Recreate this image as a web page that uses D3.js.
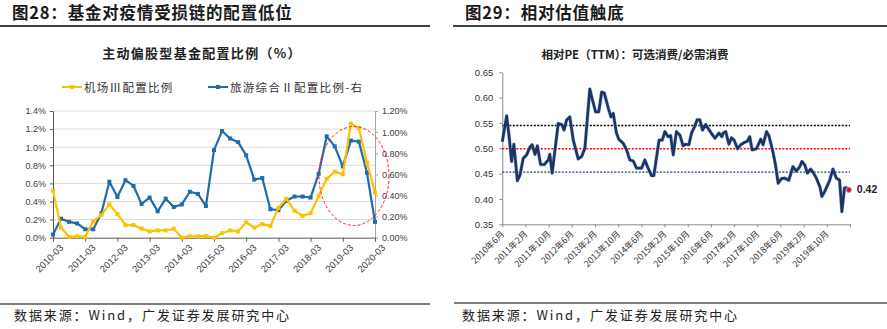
<!DOCTYPE html>
<html><head><meta charset="utf-8">
<script src="https://cdn.jsdelivr.net/npm/d3@7"></script>
<style>body{margin:0;background:#fff;} svg{display:block;}</style>
</head><body>
<svg id="c" width="887" height="329"></svg>
<script>
// ---------- Left chart data ----------
const quarters = ["2010-03","2010-06","2010-09","2010-12","2011-03","2011-06","2011-09","2011-12",
"2012-03","2012-06","2012-09","2012-12","2013-03","2013-06","2013-09","2013-12",
"2014-03","2014-06","2014-09","2014-12","2015-03","2015-06","2015-09","2015-12",
"2016-03","2016-06","2016-09","2016-12","2017-03","2017-06","2017-09","2017-12",
"2018-03","2018-06","2018-09","2018-12","2019-03","2019-06","2019-09","2019-12","2020-03"];
const yearLabels = ["2010-03","2011-03","2012-03","2013-03","2014-03","2015-03","2016-03","2017-03","2018-03","2019-03","2020-03"];
const airportShare = [0.52,0.11,0.01,0.015,0.01,0.18,0.25,0.37,0.26,0.14,0.14,0.10,0.07,0.08,0.08,0.10,
0.00,0.015,0.015,0.02,0.00,0.05,0.08,0.07,0.17,0.11,0.15,0.13,0.33,0.43,0.30,0.24,0.27,0.46,0.65,0.73,0.70,1.26,1.21,0.83,0.50];
const tourismShare = [0.03,0.18,0.15,0.135,0.08,0.08,0.23,0.53,0.385,0.545,0.49,0.32,0.38,0.25,0.37,0.29,
0.315,0.435,0.415,0.30,0.83,1.01,0.94,0.905,0.78,0.55,0.565,0.27,0.26,0.35,0.39,0.39,0.38,0.605,0.96,0.865,0.675,0.92,0.91,0.615,0.15];
const leftTicks = [0,0.2,0.4,0.6,0.8,1.0,1.2,1.4];
const rightTicks = [0,0.2,0.4,0.6,0.8,1.0,1.2];
const legendNames = ["机场Ⅲ配置比例","旅游综合Ⅱ配置比例-右"];

// ---------- Right chart data ----------
const peMonth = [0,1.5,2.3,3.2,4.0,5.2,6.1,7.2,8.4,9.6,10.3,11.3,12.1,13.2,14.5,15.9,16.4,17.2,19.3,20.5,21.3,22.2,23.3,24.5,26.2,27.4,28.5,
30.2,31.4,32.2,33.3,34.3,35.2,36.6,37.5,38.3,39.4,40.2,41.7,42.9,44.0,45.2,46.3,48.1,49.2,50.3,51.5,52.3,54.1,55.2,56.1,57.2,58.1,59.0,
60.1,61.3,62.4,63.3,64.4,65.3,66.4,67.2,68.2,69.1,70.2,71.4,72.6,73.4,74.8,75.8,76.2,77.1,78.2,79.1,80.0,81.2,82.3,83.7,84.6,85.4,86.2,
87.7,89.2,90.0,91.2,92.0,93.4,94.3,95.2,96.3,97.5,98.9,100.3,101.5,102.7,103.4,104.4,105.3,106.4,107.2,108.4,109.6,110.3,111.3,113.0,
114.1,115.3,116.4,117.2,118.1,118.9,119.6];
const peValue = [0.513,0.564,0.526,0.474,0.508,0.436,0.447,0.480,0.487,0.503,0.507,0.488,0.505,0.468,0.468,0.477,0.488,0.451,0.549,0.547,0.536,0.556,0.562,0.516,0.479,0.484,0.500,
0.617,0.589,0.572,0.572,0.611,0.609,0.579,0.562,0.569,0.530,0.518,0.510,0.497,0.477,0.475,0.461,0.461,0.477,0.461,0.446,0.446,0.516,0.516,0.533,0.523,0.525,0.487,
0.533,0.526,0.505,0.508,0.507,0.530,0.543,0.556,0.556,0.536,0.547,0.536,0.526,0.520,0.530,0.523,0.530,0.533,0.508,0.521,0.516,0.499,0.507,0.512,0.514,0.523,0.497,
0.499,0.518,0.507,0.533,0.525,0.493,0.467,0.431,0.440,0.441,0.437,0.464,0.455,0.464,0.474,0.467,0.451,0.459,0.453,0.441,0.424,0.405,0.415,0.437,
0.459,0.441,0.437,0.375,0.422,0.422,0.418];
const peTickMonths = [0,8,16,24,32,40,48,56,64,72,80,88,96,104,112,120];
const peTickLabels = ["2010年6月","2011年2月","2011年10月","2012年6月","2013年2月","2013年10月","2014年6月","2015年2月","2015年10月","2016年6月","2017年2月","2017年10月","2018年6月","2019年2月","2019年10月",""];
const peTicks = [0.35,0.40,0.45,0.50,0.55,0.60,0.65];
const peUpper = 0.545, peMean = 0.499, peLower = 0.453;
const peLastLabel = "0.42";

// ---------- Drawing ----------
const svg = d3.select("#c");
const CJK = "'Noto Sans CJK SC','Noto Sans',sans-serif";
const NUM = "'Liberation Sans',Arial,sans-serif";
const NARROW = "'Liberation Sans Narrow','Liberation Sans',Arial,sans-serif";

// Headers
svg.append("text").attr("x",12).attr("y",19).attr("font-family",CJK).attr("font-weight",700)
  .attr("font-size",16.5).attr("letter-spacing",0.8).attr("fill","#1a1a1a").text("图28：基金对疫情受损链的配置低位");
svg.append("text").attr("x",465).attr("y",19).attr("font-family",CJK).attr("font-weight",700)
  .attr("font-size",16.5).attr("letter-spacing",0.8).attr("fill","#1a1a1a").text("图29：相对估值触底");
svg.append("line").attr("x1",0).attr("x2",430).attr("y1",26).attr("y2",26).attr("stroke","#000").attr("stroke-width",1.5);
svg.append("line").attr("x1",453).attr("x2",887).attr("y1",26).attr("y2",26).attr("stroke","#000").attr("stroke-width",1.5);
// Footers
svg.append("line").attr("x1",0).attr("x2",430).attr("y1",304).attr("y2",304).attr("stroke","#000").attr("stroke-width",1.2);
svg.append("line").attr("x1",454).attr("x2",887).attr("y1",303).attr("y2",303).attr("stroke","#000").attr("stroke-width",1.2);
[[14,320],[462,320]].forEach(p=>{
  svg.append("text").attr("x",p[0]).attr("y",p[1]).attr("font-family",CJK).attr("font-size",13)
    .attr("letter-spacing",1.9).attr("fill","#222").text("数据来源：Wind，广发证券发展研究中心");
});

// ----- Left chart -----
const L = svg.append("g");
const x = d3.scalePoint().domain(quarters).range([53,375]);
const yL = d3.scaleLinear().domain([0,1.4]).range([237.7,111]);
const yR = d3.scaleLinear().domain([0,1.2]).range([237.7,111]);

L.append("text").attr("x",202).attr("y",58).attr("text-anchor","middle").attr("font-family",CJK)
  .attr("font-weight",700).attr("font-size",13).attr("letter-spacing",1.3).attr("fill","#222").text("主动偏股型基金配置比例（%）");

const yellow = "#FFC000", blue = "#1F6BB0";
const legend = [[62,yellow,legendNames[0]],[208,blue,legendNames[1]]];
legend.forEach(([lx,c,t])=>{
  L.append("line").attr("x1",lx).attr("x2",lx+20).attr("y1",87).attr("y2",87).attr("stroke",c).attr("stroke-width",2);
  L.append("rect").attr("x",lx+8).attr("y",85).attr("width",4).attr("height",4).attr("fill",c);
  L.append("text").attr("x",lx+22).attr("y",91.5).attr("font-family",CJK).attr("font-size",11.5)
    .attr("letter-spacing",1.3).attr("fill","#333").text(t);
});

L.append("g").selectAll("line").data(leftTicks.slice(1)).join("line")
  .attr("x1",53).attr("x2",375).attr("y1",d=>yL(d)).attr("y2",d=>yL(d)).attr("stroke","#d9d9d9").attr("stroke-width",1);

const axL = L.append("g").attr("transform","translate(53,0)")
  .call(d3.axisLeft(yL).tickValues(leftTicks).tickFormat(d=>d.toFixed(1)+"%").tickSize(3).tickSizeOuter(0));
axL.select(".domain").attr("stroke","#595959");
axL.selectAll(".tick line").attr("stroke","#595959");
axL.selectAll("text").attr("font-family",NUM).attr("font-size",9).attr("fill","#404040").attr("x",-7);

const axR = L.append("g").attr("transform","translate(375,0)")
  .call(d3.axisRight(yR).tickValues(rightTicks).tickFormat(d=>d.toFixed(2)+"%").tickSize(3).tickSizeOuter(0));
axR.select(".domain").attr("stroke","#a6a6a6");
axR.selectAll(".tick line").attr("stroke","#a6a6a6");
axR.selectAll("text").attr("font-family",NUM).attr("font-size",9).attr("fill","#404040").attr("x",7);

const axB = L.append("g").attr("transform","translate(0,237.7)")
  .call(d3.axisBottom(x).tickValues(yearLabels).tickSize(4).tickSizeOuter(0));
axB.select(".domain").attr("stroke","#595959");
axB.selectAll(".tick line").attr("stroke","#595959");
axB.selectAll("text").attr("font-family",NUM).attr("font-size",9.5).attr("fill","#404040")
  .attr("text-anchor","end").attr("transform","translate(4,4) rotate(-45)").attr("dy","0.35em").attr("y",6).attr("x",0);

const lineL = d3.line().x((d,i)=>x(quarters[i])).y(d=>yL(d));
const lineR = d3.line().x((d,i)=>x(quarters[i])).y(d=>yR(d));
L.append("path").datum(tourismShare).attr("d",lineR).attr("fill","none").attr("stroke",blue).attr("stroke-width",2.2).attr("stroke-linejoin","round");
L.append("g").selectAll("rect").data(tourismShare).join("rect")
  .attr("x",(d,i)=>x(quarters[i])-2).attr("y",d=>yR(d)-2).attr("width",4).attr("height",4).attr("fill",blue);
L.append("path").datum(airportShare).attr("d",lineL).attr("fill","none").attr("stroke",yellow).attr("stroke-width",2.2).attr("stroke-linejoin","round");
L.append("g").selectAll("rect").data(airportShare).join("rect")
  .attr("x",(d,i)=>x(quarters[i])-2).attr("y",d=>yL(d)-2).attr("width",4).attr("height",4).attr("fill",yellow);

L.append("ellipse").attr("cx",354).attr("cy",176).attr("rx",35).attr("ry",49.5)
  .attr("fill","none").attr("stroke","#ff2020").attr("stroke-width",1).attr("stroke-dasharray","3,2");

// ----- Right chart -----
const R = svg.append("g");
const xP = d3.scaleLinear().domain([0,120]).range([502.3,850]);
const yP = d3.scaleLinear().domain([0.35,0.65]).range([224.3,72.3]);

R.append("text").attr("x",635).attr("y",59).attr("text-anchor","middle").attr("font-family",CJK)
  .attr("font-weight",700).attr("font-size",11.5).attr("fill","#222").text("相对PE（TTM）：可选消费/必需消费");

const axPY = R.append("g").attr("transform","translate(502.3,0)")
  .call(d3.axisLeft(yP).tickValues(peTicks).tickFormat(d3.format(".2f")).tickSize(3).tickSizeOuter(0));
axPY.select(".domain").attr("stroke","#8c8c8c");
axPY.selectAll(".tick line").attr("stroke","#8c8c8c");
axPY.selectAll("text").attr("font-family",NARROW).attr("font-size",9.5).attr("fill","#333").attr("x",-9);

const axPX = R.append("g").attr("transform","translate(0,224.3)")
  .call(d3.axisBottom(xP).tickValues(peTickMonths).tickFormat((d,i)=>peTickLabels[i]).tickSize(3).tickSizeOuter(0));
axPX.select(".domain").attr("stroke","#8c8c8c");
axPX.selectAll(".tick line").attr("stroke","#8c8c8c");
axPX.selectAll("text").attr("font-family",CJK).attr("font-size",8.8).attr("fill","#333")
  .attr("text-anchor","end").attr("transform","translate(0,8) rotate(-45)").attr("dy","0.35em").attr("y",0).attr("x",0);

[[peUpper,"#000"],[peMean,"#ff0000"],[peLower,"#203c78"]].forEach(([v,c])=>{
  R.append("line").attr("x1",xP(0)).attr("x2",xP(120)).attr("y1",yP(v)).attr("y2",yP(v))
    .attr("stroke",c).attr("stroke-width",1.4).attr("stroke-dasharray","2,1.5");
});

const pePts = peMonth.map((m,i)=>[m,peValue[i]]);
const lineP = d3.line().x(d=>xP(d[0])).y(d=>yP(d[1]));
R.append("path").datum(pePts).attr("d",lineP).attr("fill","none").attr("stroke","#9fb0d0").attr("stroke-width",3.8).attr("stroke-linejoin","round").attr("opacity",0.6);
R.append("path").datum(pePts).attr("d",lineP).attr("fill","none").attr("stroke","#1b3568").attr("stroke-width",2.7).attr("stroke-linejoin","round");

const last = pePts[pePts.length-1];
R.append("circle").attr("cx",xP(last[0])).attr("cy",yP(last[1])).attr("r",2.6).attr("fill","#ff0000").attr("stroke","#8fb0e0").attr("stroke-width",1);
R.append("text").attr("x",xP(last[0])+8).attr("y",yP(last[1])+3.5).attr("font-family",NARROW)
  .attr("font-weight",700).attr("font-size",10.5).attr("fill","#222").text(peLastLabel);
</script>
</body></html>
